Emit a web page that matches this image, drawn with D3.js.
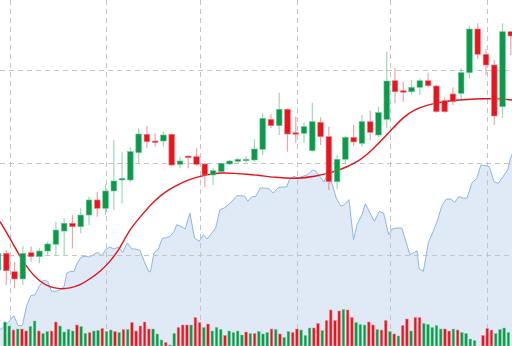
<!DOCTYPE html>
<html><head><meta charset="utf-8">
<script src="https://cdn.jsdelivr.net/npm/d3@7/dist/d3.min.js"></script>
<style>html,body{margin:0;padding:0;background:#fff;overflow:hidden}</style>
</head><body>
<svg id="chart" width="512" height="346"></svg>
<script>
// ---- candles (index of first candle = -1) ----
const candleStart = -1;
const candleOpen  = [98.38,100.18,98.19,97.41,100.25,99.82,100.43,101.16,102.59,103.43,103.06,104.32,105.95,105.05,106.92,108.11,108.11,111.06,113.05,112.32,112.32,113.05,109.81,110.70,110.63,109.84,108.65,109.01,109.84,110.13,110.24,110.27,111.43,114.67,113.98,115.75,113.22,113.16,111.28,114.35,112.79,107.92,110.35,112.72,112.08,114.41,112.97,114.67,118.84,117.76,117.65,118.13,118.84,118.27,116.68,117.41,117.48,119.71,124.43,121.70,120.54,116.03,124.14];
const candleHigh  = [100.54,100.54,99.28,101.01,100.90,100.72,101.44,103.60,103.97,104.32,105.05,106.30,106.84,107.64,112.43,111.17,111.71,113.70,113.95,113.16,113.33,113.16,110.63,110.70,111.54,109.91,109.37,109.98,110.27,110.45,110.70,112.51,115.32,115.21,117.55,115.86,114.95,114.30,116.46,114.89,113.87,110.81,112.86,114.05,115.14,115.60,116.03,121.95,120.18,118.74,118.92,119.10,119.71,118.38,117.05,118.13,120.18,124.76,125.05,122.24,121.08,125.05,124.14];
const candleLow   = [97.84,96.76,96.40,96.76,99.28,99.10,100.00,100.00,100.00,100.72,102.35,103.24,104.14,104.32,104.86,105.59,107.89,109.98,111.54,111.71,111.71,109.62,109.37,109.37,109.62,107.32,107.57,108.97,109.73,109.98,109.98,110.05,110.81,113.70,112.97,111.17,112.14,112.14,111.17,111.89,107.03,107.10,109.91,111.78,111.71,112.43,112.76,113.73,116.40,116.57,117.30,117.30,118.13,115.38,115.38,116.22,116.76,119.10,121.16,119.46,114.05,114.78,121.62];
const candleClose = [100.18,98.30,97.41,100.18,99.82,100.43,101.19,102.70,103.43,103.06,104.32,105.95,105.05,106.92,108.00,108.29,111.17,113.08,112.25,112.22,112.97,109.73,110.16,110.52,109.81,108.65,109.11,109.91,110.16,110.35,110.35,111.46,114.78,113.98,115.75,113.08,113.16,113.87,114.41,112.79,107.92,110.35,112.72,112.22,114.41,113.26,115.39,118.81,117.65,117.70,118.13,118.84,118.30,115.49,115.49,116.57,119.71,124.43,121.70,120.54,115.03,124.14,123.68];

// ---- moving average (candle-index position, price) ----
const maT = [-0.76,0.45,1.66,2.87,4.07,5.28,6.49,7.70,8.91,10.12,11.33,12.54,13.75,14.72,16.17,17.94,19.55,21.16,22.78,24.39,26.0,27.62,29.23,30.19,32.61,35.03,37.45,38.86,40.27,42.29,44.30,46.31,48.09,49.30,50.51,52.12,53.74,55.75,57.76,59.37,61.15];
const maV = [103.60,101.80,99.81,98.19,97.11,96.51,96.32,96.40,96.76,97.41,98.19,99.28,100.72,102.52,104.11,105.95,107.03,107.82,108.36,108.72,108.90,108.83,108.72,108.65,108.38,108.22,108.51,108.81,109.19,109.91,111.35,113.30,114.99,115.68,116.11,116.47,116.68,116.83,116.90,116.90,116.76];

// ---- comparison area (volume-index position, price) ----
const areaT = [-1.2,0,2.1,3.1,4.1,5.1,6.1,7.1,8.1,9.1,10.1,11.0,12.1,13.0,14.0,14.6,15.5,16.3,17.1,18.0,18.9,19.9,20.9,21.9,22.9,23.9,24.8,25.8,26.8,27.8,28.9,30.0,30.9,31.9,32.9,34.0,34.4,35.2,36.2,37.2,38.0,39.0,40.0,40.6,41.6,42.6,43.7,44.8,45.9,46.9,47.8,48.9,49.8,50.8,51.8,52.8,53.7,54.8,55.7,56.7,57.4,58.3,59.3,60.3,61.3,62.5,63.4,64.5,65.5,66.6,67.2,68.3,69.2,70.4,71.6,72.7,73.5,74.5,75.4,76.4,77.5,78.3,79.4,80.2,81.3,82.4,83.2,84.4,85.2,86.1,87.3,88.5,89.5,90.7,91.5,92.6,93.8,95.7,96.8,97.4,97.9,98.9,100.1,101.2,102.2,103.3,104.3,105.4,106.3,107.3,108.3,109.2,110.4,111.5,112.5,113.9,114.5,115.6,116.6,117.7,118.8,119.5,120.1];
const areaV = [91.92,92.32,93.44,92.36,92.36,94.49,95.60,95.71,96.62,97.26,97.16,96.08,96.08,96.25,96.62,98.05,98.24,98.19,99.14,99.78,99.86,99.78,100.03,100.29,99.92,100.65,100.86,100.65,100.86,100.29,101.30,100.65,100.65,100.51,99.32,98.19,98.19,100.22,100.57,101.84,101.84,102.02,102.56,103.28,103.10,102.81,104.54,101.84,101.48,102.19,101.73,102.38,102.92,104.90,105.08,105.44,105.81,106.41,106.41,106.35,105.81,106.27,106.35,107.24,107.24,107.14,106.70,107.24,107.35,107.35,108.14,108.51,108.32,108.51,108.68,109.19,109.08,108.43,107.89,108.97,107.43,106.16,105.26,105.44,105.98,101.65,103.28,104.36,105.55,104.72,103.64,104.72,104.54,102.19,102.81,102.92,102.92,100.05,100.29,100.46,98.49,98.24,101.37,102.54,103.71,105.37,106.03,106.05,105.68,106.32,106.14,106.14,107.81,108.26,109.73,109.62,109.55,107.92,107.75,108.46,109.19,110.45,111.14];

// ---- volume bars ----
const volume = [48,40,32,34,34,30,39,50,30,25,29,30,48,40,28,33,30,42,39,25,27,30,31,35,29,32,29,27,33,33,47,30,40,48,34,34,24,12,7,2,25,37,42,42,42,57,47,37,44,30,37,33,21,30,27,30,22,28,25,25,29,24,27,34,33,24,17,29,27,34,32,21,36,36,45,31,51,72,51,70,73,72,57,47,43,42,48,42,33,32,51,29,24,20,41,54,30,57,57,45,43,37,41,34,34,30,34,32,27,25,14,11,0,21,35,32,25,33,36,27];
const volumeUp = [1,1,0,1,0,0,1,1,0,1,1,0,0,1,1,1,1,0,1,1,0,1,1,0,1,1,0,1,0,1,0,0,0,0,0,1,1,1,0,1,1,0,0,0,1,0,0,1,0,1,1,1,0,1,1,1,1,0,1,0,1,1,1,0,1,0,1,1,0,0,1,1,1,0,0,1,0,0,0,0,1,0,0,1,1,1,0,0,1,0,0,1,0,1,0,0,1,0,0,1,1,1,1,1,0,0,1,0,1,1,1,1,1,0,0,0,1,1,1,1];

// ---- grid ticks ----
const priceTicks = [100, 110, 120];
const timeTicks = [0.45, 12.1, 23.42, 35.15, 46.4, 58.13];

// ---- layout ----
const W = 512, H = 346;
const UP = "#0a9a4a", DOWN = "#e8141e";
const svg = d3.select("#chart");
svg.append("rect").attr("width", W).attr("height", H).attr("fill", "#fff");

const xC = d3.scaleLinear().domain([0, 61]).range([6.3, 510.8]);
const xV = d3.scaleLinear().domain([0, 119]).range([5, 508.4]);
const y = d3.scaleLinear().domain([100, 120]).range([255, 70]);
const yVol = d3.scaleLinear().domain([0, 100]).range([H, H - 50]);

// area
const areaData = areaT.map((t, i) => ({t, v: areaV[i]}));
svg.append("path").datum(areaData)
  .attr("fill", "#dfeaf6")
  .attr("d", d3.area().x(d => xV(d.t)).y0(H).y1(d => y(d.v)));
svg.append("path").datum(areaData)
  .attr("fill", "none").attr("stroke", "#8fb6e0").attr("stroke-width", 1)
  .attr("d", d3.line().x(d => xV(d.t)).y(d => y(d.v)));

// grid
const grid = svg.append("g").attr("stroke", "#c4c4c4").attr("stroke-width", 1)
  .attr("stroke-dasharray", "5,4");
grid.selectAll("line.h").data(priceTicks).join("line").attr("class", "h")
  .attr("x1", 0).attr("x2", W)
  .attr("y1", d => Math.round(y(d)) + 0.5).attr("y2", d => Math.round(y(d)) + 0.5);
grid.selectAll("line.v").data(timeTicks).join("line").attr("class", "v")
  .attr("y1", 0).attr("y2", H)
  .attr("x1", d => Math.round(xC(d)) + 0.5).attr("x2", d => Math.round(xC(d)) + 0.5);

// volume bars
const volData = volume.map((v, i) => ({i, v, up: volumeUp[i]}));
svg.append("g").selectAll("rect").data(volData.filter(d => d.v > 0)).join("rect")
  .attr("x", d => xV(d.i) - 1.3).attr("width", 2.6)
  .attr("y", d => yVol(d.v)).attr("height", d => H - yVol(d.v))
  .attr("fill", d => d.up ? UP : DOWN)
  .attr("stroke", d => d.up ? "#7cc79c" : "#f08a90").attr("stroke-width", 0.5);

// moving average
const maData = maT.map((t, i) => ({t, v: maV[i]}));
svg.append("path").datum(maData)
  .attr("fill", "none").attr("stroke", "#e3121b").attr("stroke-width", 1.4)
  .attr("d", d3.line().curve(d3.curveBasis).x(d => xC(d.t)).y(d => y(d.v)));

// candles
const candles = candleOpen.map((o, i) => ({
  k: candleStart + i, o, h: candleHigh[i], l: candleLow[i], c: candleClose[i]
}));
const cg = svg.append("g");
cg.selectAll("line").data(candles).join("line")
  .attr("x1", d => xC(d.k)).attr("x2", d => xC(d.k))
  .attr("y1", d => y(d.h)).attr("y2", d => y(d.l))
  .attr("stroke", d => d.c >= d.o ? UP : DOWN)
  .attr("stroke-opacity", 0.4).attr("stroke-width", 1.2);
const bw = 5.6;
cg.selectAll("rect").data(candles).join("rect")
  .attr("x", d => xC(d.k) - bw / 2).attr("width", bw)
  .attr("y", d => y(Math.max(d.o, d.c)))
  .attr("height", d => Math.max(1.5, Math.abs(y(d.o) - y(d.c))))
  .attr("fill", d => d.c >= d.o ? UP : DOWN)
  .attr("stroke", d => d.c >= d.o ? "#6cc495" : "#f17c83").attr("stroke-width", 0.6);
</script>
</body></html>
